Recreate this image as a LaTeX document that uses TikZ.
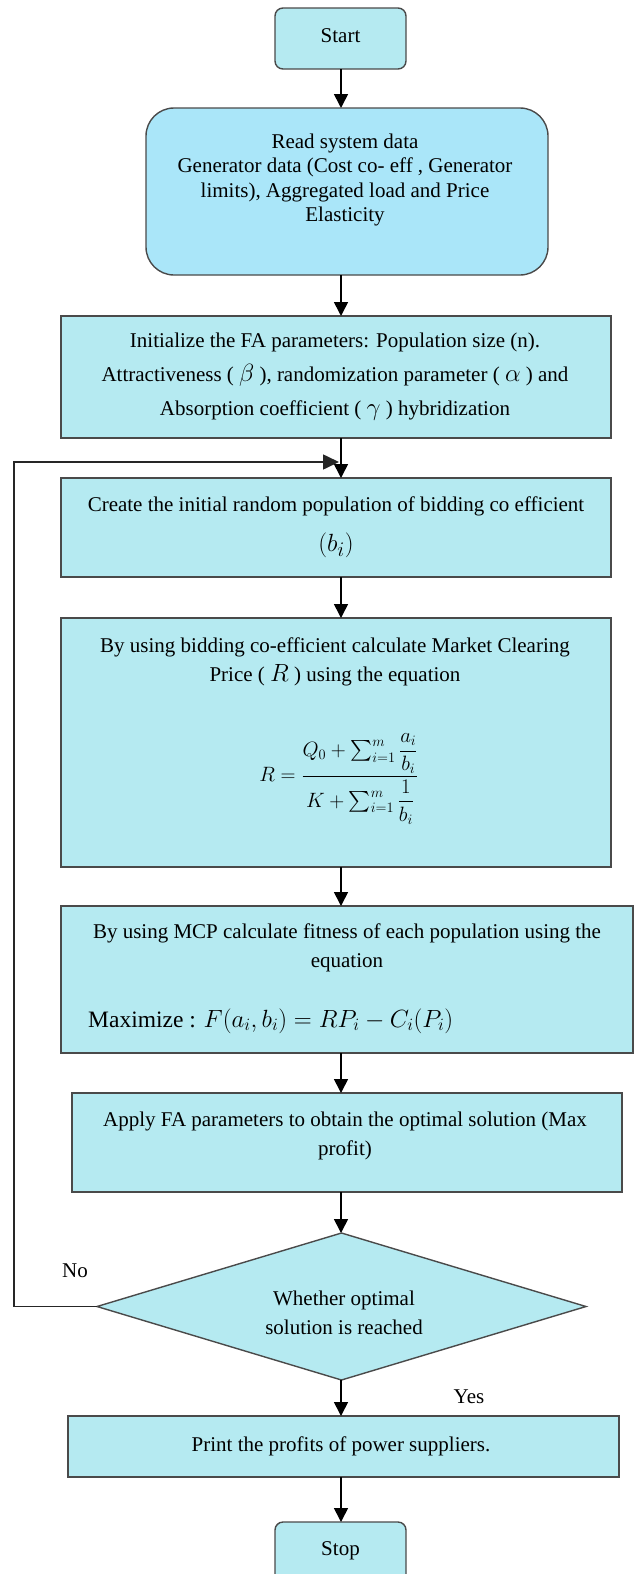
\documentclass[tikz,border=0pt]{standalone}
\usepackage{amsmath}
\usepackage{fontspec}
\setmainfont{Liberation Serif}
\usetikzlibrary{arrows.meta,shapes.geometric}
\definecolor{boxfill}{HTML}{B5EAF1}
\definecolor{readfill}{HTML}{AAE6F9}
\definecolor{edgec}{HTML}{4A4A4A}
\newcommand{\mymath}[2]{{\fontsize{#1}{#1}\selectfont$#2$}}
\begin{document}
\begin{tikzpicture}[x=1pt,y=1pt,
  box/.style={draw=edgec, line width=1.4pt, fill=boxfill, inner sep=0pt, outer sep=0pt},
  term/.style={box, rounded corners=8pt},
  txt/.style={font=\fontsize{21}{29}\selectfont, align=center, inner sep=0pt},
  arr/.style={-{Triangle[length=14pt,width=14pt]}, line width=1.6pt, black},
  loopline/.style={-{Triangle[length=16pt,width=15pt]}, line width=1.6pt, black!85}
]
\useasboundingbox (0,0) rectangle (634,-1574);
\clip (0,0) rectangle (634,-1574);

% boxes
\node[term, minimum width=131pt, minimum height=61pt] (start) at (340.5,-38.5) {};
\node[txt] (starttxt) at (340.5,-36) {Start};

\node[box, fill=readfill, rounded corners=28pt, minimum width=402pt, minimum height=167pt] (read) at (347,-191.5) {};
\node[txt, font=\fontsize{21}{24.5}\selectfont] (readtxt) at (345,-180) {Read system data\\ Generator data (Cost co- eff , Generator\\ limits), Aggregated load and Price\\ Elasticity};

\node[box, minimum width=550pt, minimum height=122pt] (init) at (336,-377) {};
\node[txt, font=\fontsize{21}{34}\selectfont] (inittxt) at (335,-377) {Initialize the FA parameters: Population size (n).\\ Attractiveness ( \mymath{26}{\beta} ), randomization parameter ( \mymath{26}{\alpha} ) and\\ Absorption coefficient ( \mymath{26}{\gamma} ) hybridization};

\node[box, minimum width=550pt, minimum height=99pt] (create) at (336,-527.5) {};
\node[txt] (createtxt) at (336,-506) {Create the initial random population of bidding co efficient};
\node[txt] (createmath) at (336,-545) {\mymath{31}{(b_i)}};

\node[box, minimum width=550pt, minimum height=249pt] (mcp) at (336,-742.5) {};
\node[txt] (mcptxt) at (335,-662) {By using bidding co-efficient calculate Market Clearing\\ Price ( \mymath{23}{R} ) using the equation};
\node[txt] (mcpeq) at (339,-779) {\mymath{22}{R=\dfrac{Q_0+\textstyle\sum_{i=1}^{m}\dfrac{a_i}{b_i}}{K+\textstyle\sum_{i=1}^{m}\dfrac{1}{b_i}}}};

\node[box, minimum width=572pt, minimum height=147pt] (fit) at (347,-979.5) {};
\node[txt] (fittxt) at (347,-948) {By using MCP calculate fitness of each population using the\\ equation};
\node[txt, anchor=west, font=\fontsize{23.5}{24}\selectfont] (fiteq) at (88,-1021) {Maximize : \mymath{24}{F(a_i,b_i)=RP_i-C_i(P_i)}};

\node[box, minimum width=550pt, minimum height=99pt] (apply) at (347,-1142.5) {};
\node[txt] (applytxt) at (345,-1136) {Apply FA parameters to obtain the optimal solution (Max\\ profit)};

\node[box, diamond, minimum width=489pt, minimum height=147pt] (dec) at (341.5,-1306.5) {};
\node[txt] (dectxt) at (344,-1313) {Whether optimal\\ solution is reached};

\node[box, minimum width=551pt, minimum height=61pt] (print) at (343.5,-1446.5) {};
\node[txt] (printtxt) at (341,-1446) {Print the profits of power suppliers.};

\node[term, minimum width=131pt, minimum height=61pt] (stop) at (340.5,-1552.5) {};
\node[txt] (stoptxt) at (340.5,-1551) {Stop};

% labels
\node[txt] (nolab) at (75,-1271) {No};
\node[txt] (yeslab) at (469,-1397) {Yes};

% connectors
\coordinate (col) at (341,0);
\draw[arr] (col |- start.south) -- (col |- read.north);
\draw[arr] (col |- read.south) -- (col |- init.north);
\draw[arr] (col |- init.south) -- (col |- create.north);
\draw[arr] (col |- create.south) -- (col |- mcp.north);
\draw[arr] (col |- mcp.south) -- (col |- fit.north);
\draw[arr] (col |- fit.south) -- (col |- apply.north);
\draw[arr] (col |- apply.south) -- (col |- dec.north);
\draw[arr] (col |- dec.south) -- (col |- print.north);
\draw[arr] (col |- print.south) -- (col |- stop.north);

\coordinate (loopx) at (14,0);
\coordinate (looptop) at (339,-462);
\draw[loopline] (dec.west) -- (dec.west -| loopx) -- (loopx |- looptop) -- (looptop);
\end{tikzpicture}
\end{document}
